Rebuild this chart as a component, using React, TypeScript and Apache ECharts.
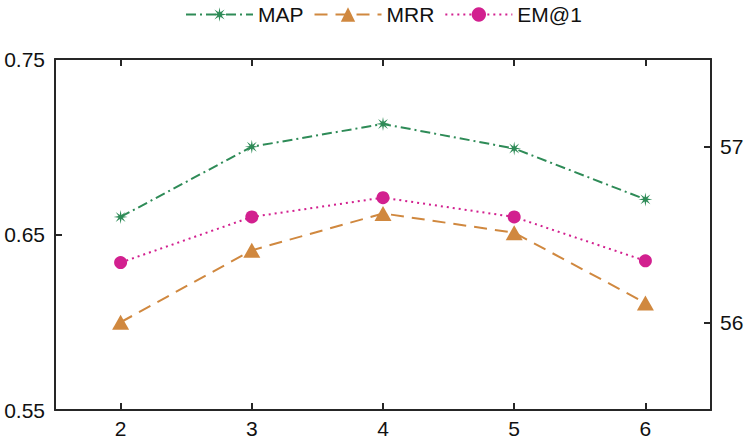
import React, { useEffect, useRef } from 'react';
import * as echarts from 'echarts';

const categories = [2, 3, 4, 5, 6];
const mapValues = [0.66, 0.7, 0.713, 0.699, 0.67];
const mrrValues = [0.6, 0.641, 0.662, 0.651, 0.611];
const em1Values = [56.34, 56.6, 56.71, 56.6, 56.35];
const leftTicks = [0.55, 0.65, 0.75];
const rightTicks = [56, 57];
const seriesNames = ['MAP', 'MRR', 'EM@1'];

function starPath(): string {
  const pts: string[] = [];
  for (let i = 0; i < 16; i++) {
    const a = (Math.PI / 8) * i - Math.PI / 2;
    const r = i % 2 === 0 ? 10 : 3.2;
    pts.push(`${(Math.cos(a) * r).toFixed(2)} ${(Math.sin(a) * r).toFixed(2)}`);
  }
  return 'path://M' + pts.join(' L') + ' Z';
}

const FONT = '"Liberation Sans", Arial, Helvetica, sans-serif';
const AXIS_COLOR = '#262626';
const FS = 21;

export default function App() {
  const ref = useRef<HTMLDivElement>(null);
  useEffect(() => {
    if (!ref.current) return;
    const chart = echarts.init(ref.current, undefined, { renderer: 'svg' });
    const pair = (vals: number[]) => categories.map((c, i) => [c, vals[i]]);
    const axisBase = {
      axisLine: { show: true, onZero: false, lineStyle: { color: AXIS_COLOR, width: 2 } },
      axisTick: { show: true, inside: true, length: 7, lineStyle: { color: AXIS_COLOR, width: 2 } },
      splitLine: { show: false },
    };
    const option: any = {
      animation: false,
      backgroundColor: '#ffffff',
      textStyle: { fontFamily: FONT },
      legend: {
        data: seriesNames,
        left: 185,
        top: 4,
        padding: 0,
        itemWidth: 67,
        itemHeight: 18,
        itemGap: 10,
        textStyle: { fontFamily: FONT, fontSize: FS, color: '#111' },
      },
      grid: { left: 55, right: 36, top: 59, bottom: 37 },
      xAxis: [
        {
          type: 'value',
          position: 'bottom',
          min: 1.5,
          max: 6.5,
          ...axisBase,
          axisTick: { ...axisBase.axisTick, customValues: categories },
          axisLabel: {
            customValues: categories,
            fontSize: FS,
            color: '#111',
            margin: 8,
            fontFamily: FONT,
          },
        },
        {
          type: 'value',
          position: 'top',
          min: 1.5,
          max: 6.5,
          ...axisBase,
          axisTick: { ...axisBase.axisTick, customValues: categories },
          axisLabel: { show: false },
        },
      ],
      yAxis: [
        {
          type: 'value',
          position: 'left',
          min: 0.55,
          max: 0.75,
          ...axisBase,
          axisTick: { ...axisBase.axisTick, customValues: leftTicks },
          axisLabel: {
            customValues: leftTicks,
            formatter: (v: number) => v.toFixed(2),
            fontSize: FS,
            color: '#111',
            margin: 10,
            fontFamily: FONT,
          },
        },
        {
          type: 'value',
          position: 'right',
          min: 55.5,
          max: 57.5,
          ...axisBase,
          axisTick: { ...axisBase.axisTick, customValues: rightTicks },
          axisLabel: {
            customValues: rightTicks,
            fontSize: FS,
            color: '#111',
            margin: 9,
            fontFamily: FONT,
          },
        },
      ],
      series: [
        {
          name: seriesNames[0],
          type: 'line',
          xAxisIndex: 0,
          yAxisIndex: 0,
          data: pair(mapValues),
          symbol: starPath(),
          symbolSize: 14,
          color: '#2e8b57',
          lineStyle: { color: '#2e8b57', width: 2, type: [10, 4, 2, 4] },
          itemStyle: { color: '#2e8b57' },
        },
        {
          name: seriesNames[1],
          type: 'line',
          xAxisIndex: 0,
          yAxisIndex: 0,
          data: pair(mrrValues),
          symbol: 'triangle',
          symbolSize: [17, 15],
          color: '#d0883f',
          lineStyle: { color: '#d0883f', width: 2, type: [13, 8] },
          itemStyle: { color: '#d0883f' },
        },
        {
          name: seriesNames[2],
          type: 'line',
          xAxisIndex: 0,
          yAxisIndex: 1,
          data: pair(em1Values),
          symbol: 'circle',
          symbolSize: 13,
          color: '#d2208f',
          lineStyle: { color: '#d2208f', width: 2, type: [2, 4] },
          itemStyle: { color: '#d2208f' },
        },
      ],
    };
    chart.setOption(option);
    return () => chart.dispose();
  }, []);
  return (
    <div
      ref={ref}
      style={{ position: 'fixed', left: 0, top: 0, width: 747, height: 447, background: '#fff' }}
    />
  );
}
